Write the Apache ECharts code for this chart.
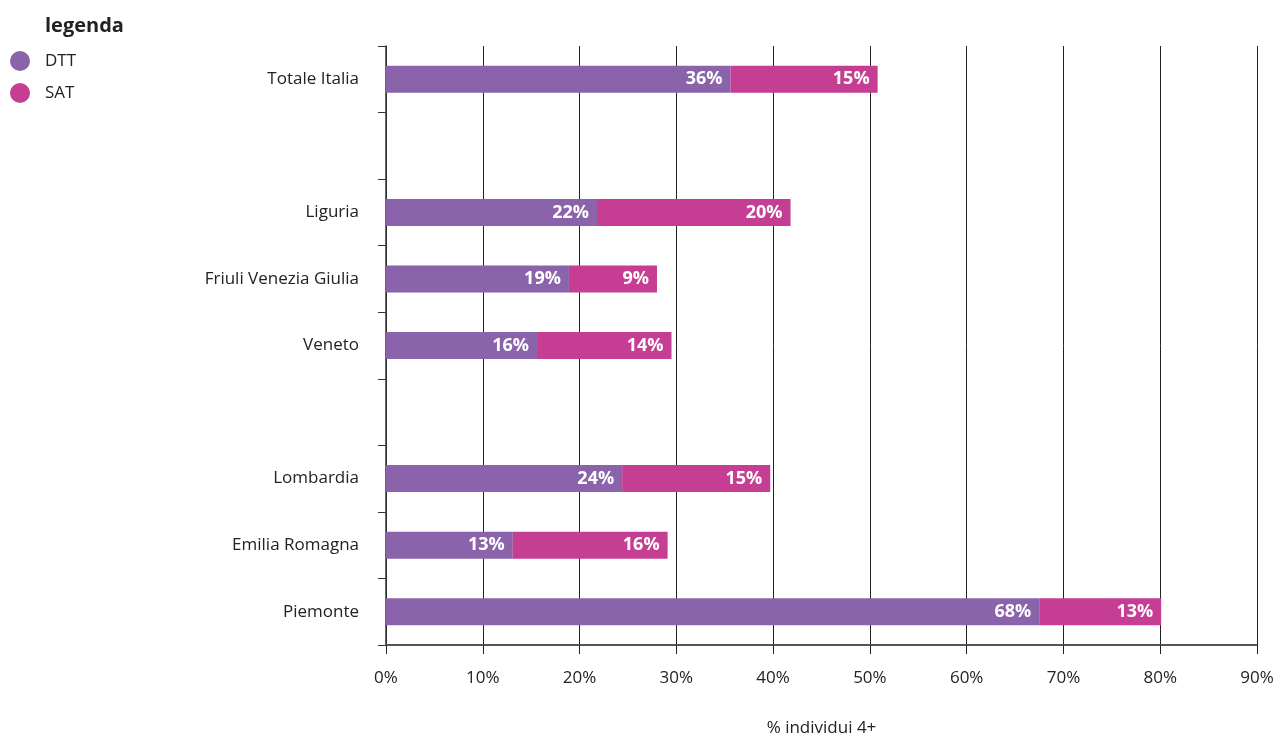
<!DOCTYPE html>
<html>
<head>
<meta charset="utf-8">
<script src="https://cdn.jsdelivr.net/npm/echarts@6/dist/echarts.min.js"></script>
<style>
  html, body { margin: 0; padding: 0; background: #fff; }
  #chart { width: 1283px; height: 735px; }
</style>
</head>
<body>
<div id="chart"></div>
<script>
// categories top to bottom (blank rows are spacers)
const categories = ['Totale Italia', ' ', 'Liguria', 'Friuli Venezia Giulia', 'Veneto', '  ', 'Lombardia', 'Emilia Romagna', 'Piemonte']
const dttValues = [35.6, null, 21.8, 18.9, 15.6, null, 24.4, 13.1, 67.5]
const satValues = [15.2, null, 20.0, 9.1, 13.9, null, 15.3, 16.0, 12.6]

const chart = echarts.init(document.getElementById('chart'))

const barLabel = {
  show: true,
  position: 'insideRight',
  distance: 8,
  color: '#fff',
  fontWeight: 'bold',
  fontSize: 18,
  fontFamily: 'Open Sans',
  formatter: p => Math.round(p.value) + '%'
}

const option = {
  animation: false,
  textStyle: { fontFamily: 'Open Sans' },
  title: {
    text: 'legenda',
    left: 40,
    top: 11,
    textStyle: { fontSize: 20, fontWeight: 'bold', color: '#222', fontFamily: 'Open Sans' }
  },
  legend: {
    orient: 'vertical',
    left: 5,
    top: 46,
    icon: 'circle',
    itemWidth: 20,
    itemHeight: 20,
    itemGap: 12,
    textStyle: { fontSize: 17, color: '#222', padding: [0, 0, 0, 10] },
    data: ['DTT', 'SAT']
  },
  grid: { left: 386, right: 26, top: 46, bottom: 90, outerBoundsMode: 'none' },
  xAxis: {
    type: 'value',
    min: 0,
    max: 90,
    interval: 10,
    name: '% individui 4+',
    nameLocation: 'middle',
    nameGap: 75,
    nameTextStyle: { fontSize: 17, color: '#222' },
    axisLine: { show: true, lineStyle: { color: '#555', width: 2 } },
    axisTick: { show: true, length: 9, lineStyle: { color: '#222' } },
    axisLabel: { formatter: '{value}%', fontSize: 17, color: '#222', margin: 25 },
    splitLine: { show: true, lineStyle: { color: '#222', width: 1 } }
  },
  yAxis: {
    type: 'category',
    inverse: true,
    data: categories,
    axisLine: { show: true, lineStyle: { color: '#333', width: 1.5 } },
    axisTick: { show: true, length: 8, lineStyle: { color: '#333' } },
    axisLabel: { fontSize: 17, color: '#222', margin: 27 },
    splitLine: { show: false }
  },
  series: [
    {
      name: 'DTT',
      type: 'bar',
      stack: 'tot',
      barWidth: 27,
      itemStyle: { color: '#8a63ab' },
      label: barLabel,
      data: dttValues
    },
    {
      name: 'SAT',
      type: 'bar',
      stack: 'tot',
      barWidth: 27,
      itemStyle: { color: '#c53e93' },
      label: barLabel,
      data: satValues
    }
  ]
}

chart.setOption(option)
</script>
</body>
</html>
